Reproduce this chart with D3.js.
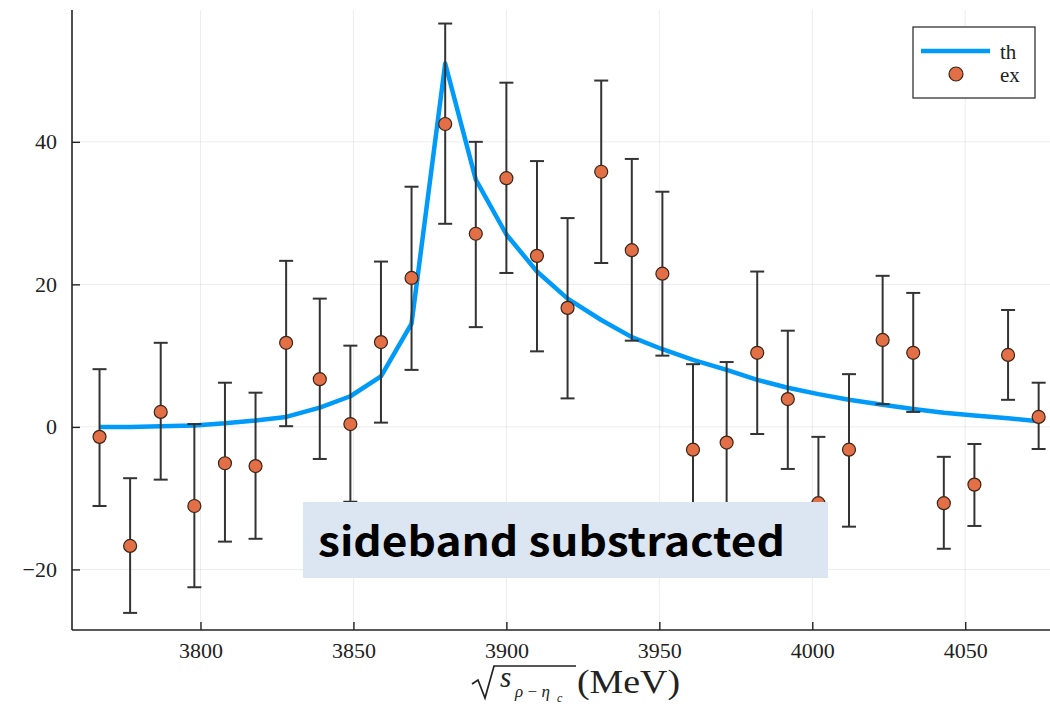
<!DOCTYPE html>
<html>
<head>
<meta charset="utf-8">
<script src="https://cdn.jsdelivr.net/npm/d3@7"></script>
<style>
  body { margin: 0; background: #fff; }
  svg { display: block; }
</style>
</head>
<body>
<div id="chart"></div>
<script>
// bin centres (MeV) and values
const binCenters = [3767, 3777, 3787, 3798, 3808, 3818, 3828, 3839, 3849, 3859, 3869,
  3880, 3890, 3900, 3910, 3920, 3931, 3941, 3951, 3961, 3972, 3982, 3992, 4002,
  4012, 4023, 4033, 4043, 4053, 4064, 4074];
const exValues = [-1.4, -16.7, 2.1, -11.1, -5.1, -5.5, 11.8, 6.7, 0.4, 11.9, 20.9,
  42.5, 27.1, 34.9, 24.0, 16.7, 35.8, 24.8, 21.5, -3.2, -2.2, 10.4, 3.9, -10.7,
  -3.2, 12.2, 10.4, -10.7, -8.1, 10.1, 1.4];
const exHigh = [8.1, -7.2, 11.8, 0.4, 6.2, 4.8, 23.3, 18.0, 11.4, 23.2, 33.7,
  56.6, 40.0, 48.3, 37.3, 29.3, 48.6, 37.6, 33.0, 8.8, 9.1, 21.8, 13.5, -1.4,
  7.4, 21.2, 18.8, -4.2, -2.4, 16.4, 6.2];
const exLow = [-11.1, -26.1, -7.4, -22.5, -16.1, -15.7, 0.1, -4.5, -10.5, 0.6, 8.0,
  28.5, 14.0, 21.6, 10.6, 4.0, 23.0, 12.1, 10.0, -15.2, -13.5, -1.0, -5.9, -20.0,
  -14.0, 3.2, 2.1, -17.1, -13.9, 3.8, -3.1];
const thValues = [0.0, 0.0, 0.1, 0.2, 0.5, 0.9, 1.4, 2.7, 4.3, 7.1, 14.5,
  51.0, 34.7, 27.0, 21.8, 18.0, 15.0, 12.6, 10.9, 9.4, 8.0, 6.6, 5.5, 4.6,
  3.8, 3.1, 2.5, 2.0, 1.6, 1.2, 0.8];
const xTicks = [3800, 3850, 3900, 3950, 4000, 4050];
const yTicks = [-20, 0, 20, 40];
const legendLabels = ["th", "ex"];
const noteText = "sideband substracted";

const canvasWidth = 1050;
const canvasHeight = 709;
const plot = { left: 72, right: 1057, top: 10, bottom: 630 };

const lineColor = "#009af9";
const dotColor = "#e26f46";
const serif = "'Liberation Serif', 'DejaVu Serif', serif";
const textColor = "#222";

const x = d3.scaleLinear().domain([3758, 4080]).range([plot.left, plot.right]);
const y = d3.scaleLinear().domain([-28.5, 58.5]).range([plot.bottom, plot.top]);

const svg = d3.select("#chart")
  .append("svg")
  .attr("width", canvasWidth)
  .attr("height", canvasHeight);

// grid
svg.append("g")
  .selectAll("line")
  .data(xTicks)
  .join("line")
  .attr("x1", (d) => x(d)).attr("x2", (d) => x(d))
  .attr("y1", plot.top).attr("y2", plot.bottom)
  .attr("stroke", "#000").attr("stroke-opacity", 0.08);
svg.append("g")
  .selectAll("line")
  .data(yTicks)
  .join("line")
  .attr("x1", plot.left).attr("x2", plot.right)
  .attr("y1", (d) => y(d)).attr("y2", (d) => y(d))
  .attr("stroke", "#000").attr("stroke-opacity", 0.08);

// axes, ticks pointing inward
const xAxis = svg.append("g")
  .attr("transform", `translate(0,${plot.bottom})`)
  .call(d3.axisBottom(x).tickValues(xTicks).tickSize(-8).tickPadding(12).tickSizeOuter(0)
    .tickFormat(d3.format("d")));
const yAxis = svg.append("g")
  .attr("transform", `translate(${plot.left},0)`)
  .call(d3.axisLeft(y).tickValues(yTicks).tickSize(-8).tickPadding(15).tickSizeOuter(0)
    .tickFormat((d) => d < 0 ? "\u2212" + Math.abs(d) : d));
[xAxis, yAxis].forEach((ax) => {
  ax.select(".domain").attr("stroke", "#222").attr("stroke-width", 1.6);
  ax.selectAll(".tick line").attr("stroke", "#222").attr("stroke-width", 1.4);
  ax.selectAll("text").attr("font-family", serif).attr("font-size", 22).attr("fill", textColor);
});
yAxis.select(".domain").attr("d", `M0,${plot.top}V${plot.bottom}`);
xAxis.select(".domain").attr("d", `M${plot.left},0H${plot.right}`);

// theory curve
svg.append("path")
  .datum(binCenters.map((c, i) => [c, thValues[i]]))
  .attr("fill", "none")
  .attr("stroke", lineColor)
  .attr("stroke-width", 4.5)
  .attr("stroke-linejoin", "round")
  .attr("d", d3.line().x((d) => x(d[0])).y((d) => y(d[1])));

// error bars
const bars = svg.append("g")
  .selectAll("g")
  .data(binCenters.map((c, i) => ({ c, v: exValues[i], hi: exHigh[i], lo: exLow[i] })))
  .join("g")
  .attr("stroke", "#333")
  .attr("stroke-width", 2);
bars.append("line")
  .attr("x1", (d) => x(d.c)).attr("x2", (d) => x(d.c))
  .attr("y1", (d) => y(d.hi)).attr("y2", (d) => y(d.lo));
bars.append("line")
  .attr("x1", (d) => x(d.c) - 7).attr("x2", (d) => x(d.c) + 7)
  .attr("y1", (d) => y(d.hi)).attr("y2", (d) => y(d.hi));
bars.append("line")
  .attr("x1", (d) => x(d.c) - 7).attr("x2", (d) => x(d.c) + 7)
  .attr("y1", (d) => y(d.lo)).attr("y2", (d) => y(d.lo));

// data points
svg.append("g")
  .selectAll("circle")
  .data(binCenters.map((c, i) => [c, exValues[i]]))
  .join("circle")
  .attr("cx", (d) => x(d[0]))
  .attr("cy", (d) => y(d[1]))
  .attr("r", 6.5)
  .attr("fill", dotColor)
  .attr("stroke", "#3a2418")
  .attr("stroke-width", 1.2);

// legend
const legend = svg.append("g").attr("transform", "translate(913,27)");
legend.append("rect")
  .attr("width", 122).attr("height", 71)
  .attr("fill", "#fff").attr("stroke", "#333").attr("stroke-width", 1.3);
legend.append("line")
  .attr("x1", 8).attr("x2", 77).attr("y1", 24).attr("y2", 24)
  .attr("stroke", lineColor).attr("stroke-width", 4.5);
legend.append("circle")
  .attr("cx", 43).attr("cy", 47).attr("r", 7)
  .attr("fill", dotColor).attr("stroke", "#3a2418").attr("stroke-width", 1.2);
legend.selectAll("text")
  .data(legendLabels)
  .join("text")
  .attr("x", 87)
  .attr("y", (d, i) => 32 + i * 23)
  .attr("font-family", serif)
  .attr("font-size", 21)
  .attr("fill", textColor)
  .text((d) => d);

// x label: sqrt(s_{rho - eta_c}) (MeV)
const xl = svg.append("g");
xl.append("path")
  .attr("d", "M472,684 L478,680 L485,698 L494,666 L576,666")
  .attr("fill", "none").attr("stroke", textColor).attr("stroke-width", 1.7);
xl.append("text")
  .attr("x", 500).attr("y", 687)
  .attr("font-family", serif).attr("font-style", "italic").attr("font-size", 29)
  .attr("fill", textColor).text("s");
xl.append("text")
  .attr("x", 515).attr("y", 697)
  .attr("font-family", serif).attr("font-style", "italic").attr("font-size", 17)
  .attr("fill", textColor).text("\u03c1\u2009\u2212\u2009\u03b7");
xl.append("text")
  .attr("x", 557).attr("y", 702)
  .attr("font-family", serif).attr("font-style", "italic").attr("font-size", 12)
  .attr("fill", textColor).text("c");
xl.append("text")
  .attr("x", 577).attr("y", 693)
  .attr("font-family", serif).attr("font-size", 34)
  .attr("textLength", 103)
  .attr("lengthAdjust", "spacingAndGlyphs")
  .attr("fill", textColor).text("(MeV)");

// annotation box
svg.append("rect")
  .attr("x", 303).attr("y", 502).attr("width", 525).attr("height", 76)
  .attr("fill", "#dce6f2");
svg.append("text")
  .attr("x", 318).attr("y", 556)
  .attr("font-family", "'Noto Sans CJK SC', 'Noto Sans', sans-serif")
  .attr("font-weight", "bold")
  .attr("font-size", 40)
  .attr("textLength", 467)
  .attr("lengthAdjust", "spacingAndGlyphs")
  .attr("fill", "#000")
  .text(noteText);
</script>
</body>
</html>
